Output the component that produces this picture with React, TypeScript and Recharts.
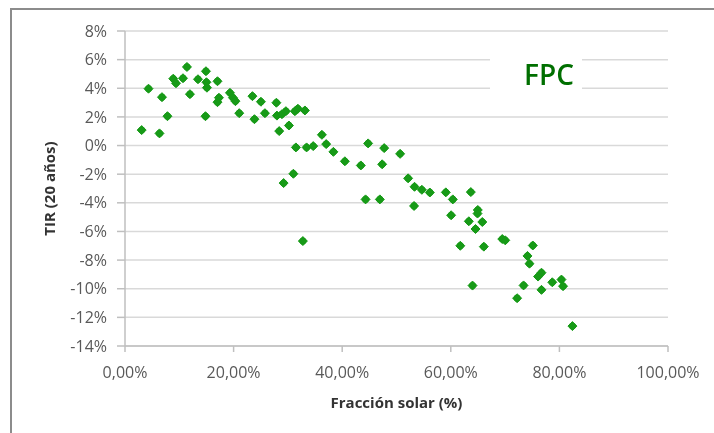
import { ScatterChart, Scatter, XAxis, YAxis, CartesianGrid, Label } from 'recharts';

// Fracción solar (%) for each simulated case
const solarFraction = [
  3.07, 4.33, 6.35, 6.81, 7.82, 8.89, 9.39, 10.68, 11.41, 11.96,
  13.44, 14.91, 14.82, 15.0, 15.09, 17.03, 17.3, 17.03, 19.33, 19.88,
  20.34, 21.04, 23.47, 25.03, 23.84, 25.77, 27.88, 27.98, 28.9, 29.63,
  28.4, 30.19, 31.29, 31.84, 33.13, 31.47, 33.44, 34.66, 31.01, 29.21,
  32.76, 36.26, 37.05, 38.38, 40.49, 43.43, 44.78, 47.73, 50.67, 47.36,
  52.14, 53.32, 54.67, 56.14, 59.08, 60.37, 63.69, 44.3, 46.93, 53.23,
  60.06, 64.97, 64.92, 63.32, 65.8, 64.55, 69.48, 70.03, 61.75, 66.08,
  75.1, 74.12, 74.49, 76.7, 76.07, 78.69, 80.38, 80.67, 73.4, 76.7,
  64.0, 72.21, 82.4,
];

// TIR (20 años), %
const tir = [
  1.08, 3.97, 0.85, 3.38, 2.05, 4.67, 4.35, 4.7, 5.49, 3.59,
  4.63, 5.19, 2.05, 4.42, 4.04, 4.49, 3.34, 3.03, 3.68, 3.34,
  3.1, 2.26, 3.45, 3.06, 1.84, 2.26, 2.99, 2.09, 2.19, 2.4,
  1.01, 1.4, 2.4, 2.57, 2.45, -0.13, -0.13, -0.04, -1.97, -2.62,
  -6.67, 0.75, 0.1, -0.44, -1.1, -1.39, 0.15, -0.18, -0.58, -1.31,
  -2.29, -2.88, -3.09, -3.28, -3.27, -3.76, -3.25, -3.76, -3.76, -4.22,
  -4.87, -4.5, -4.75, -5.29, -5.34, -5.83, -6.53, -6.62, -7.0, -7.06,
  -6.98, -7.71, -8.25, -8.88, -9.15, -9.55, -9.36, -9.82, -9.77, -10.08,
  -9.78, -10.66, -12.61,
];

const xTicks = [0, 20, 40, 60, 80, 100];
const yTicks = [-14, -12, -10, -8, -6, -4, -2, 0, 2, 4, 6, 8];

const points = solarFraction.map((x, i) => ({ x, y: tir[i] }));

const GREEN = '#179a17';
const AXIS = '#bfbfbf';
const FONT = '"Open Sans", sans-serif';

// rounded diamond, like the blurred Excel marker
const Marker = (props: any) => {
  const { cx, cy } = props;
  if (cx == null || cy == null) return null;
  const r = 4.5;
  return (
    <g fill={GREEN}>
      <path
        d={`M${cx},${cy - r}L${cx + r},${cy}L${cx},${cy + r}L${cx - r},${cy}Z`}
        stroke={GREEN}
        strokeWidth={1}
        strokeLinejoin="round"
      />
      <circle cx={cx} cy={cy} r={3.4} />
    </g>
  );
};

const YTitle = ({ viewBox }: any) => {
  const cx = viewBox.x + 41;
  const cy = viewBox.y + viewBox.height / 2;
  return (
    <text
      transform={`translate(${cx},${cy}) rotate(-90)`}
      textAnchor="middle"
      dominantBaseline="central"
      fontFamily={FONT}
      fontSize={15}
      fontWeight={700}
      fill="#333"
    >
      TIR (20 años)
    </text>
  );
};

const XTitle = ({ viewBox }: any) => (
  <text
    x={viewBox.x + viewBox.width / 2}
    y={viewBox.y + 56}
    textAnchor="middle"
    dominantBaseline="central"
    fontFamily={FONT}
    fontSize={15}
    fontWeight={700}
    fill="#333"
  >
    Fracción solar (%)
  </text>
);

const fmtX = (v: number) => `${v.toFixed(2).replace('.', ',')}%`;
const fmtY = (v: number) => `${v}%`;

export default function App() {
  return (
    <div style={{ position: 'relative', width: 698, height: 417 }}>
      <div
        style={{
          position: 'fixed',
          left: 10,
          top: 8,
          width: 704,
          height: 425,
          borderLeft: '2px solid #8c8c8c',
          borderTop: '2px solid #8c8c8c',
          boxSizing: 'border-box',
        }}
      />
      <ScatterChart width={698} height={417} margin={{ top: 23, right: 38, bottom: 19, left: 0 }}>
        <CartesianGrid vertical={false} stroke="#d9d9d9" strokeWidth={1.5} />
        <XAxis
          type="number"
          dataKey="x"
          domain={[0, 100]}
          ticks={xTicks}
          tickFormatter={fmtX}
          height={60}
          stroke={AXIS}
          strokeWidth={1.5}
          tickSize={6}
          tickMargin={15}
          tick={{ fill: '#595959', fontSize: 16, fontFamily: FONT }}
        >
          <Label content={<XTitle />} />
        </XAxis>
        <YAxis
          type="number"
          dataKey="y"
          domain={[-14, 8]}
          ticks={yTicks}
          tickFormatter={fmtY}
          width={117}
          stroke={AXIS}
          strokeWidth={1.5}
          tickSize={8}
          tickMargin={10}
          tick={{ fill: '#595959', fontSize: 16, fontFamily: FONT }}
        >
          <Label content={<YTitle />} />
        </YAxis>
        <Scatter data={points} shape={<Marker />} isAnimationActive={false} />
      </ScatterChart>
      <div
        style={{
          position: 'absolute',
          left: 482,
          top: 51,
          width: 92,
          height: 31,
          background: '#fff',
          boxSizing: 'border-box',
          paddingLeft: 34,
          fontFamily: FONT,
          fontWeight: 600,
          fontSize: 28,
          lineHeight: '31px',
          color: '#006f00',
        }}
      >
        FPC
      </div>
    </div>
  );
}
